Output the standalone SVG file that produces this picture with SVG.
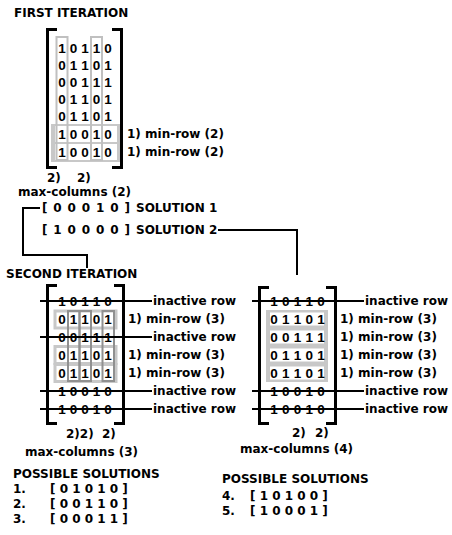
<svg xmlns="http://www.w3.org/2000/svg" width="452" height="535" viewBox="0 0 452 535">
<style>
text{font-family:"DejaVu Sans","Liberation Sans",sans-serif;font-weight:bold;font-size:12px;fill:#000}
.d{text-anchor:middle;font-family:"Liberation Sans",Arial,sans-serif;font-size:13.5px}
.br{fill:none;stroke:#000;stroke-width:3}
.ln{fill:none;stroke:#000;stroke-width:2}
.cl{fill:none;stroke:#c0c0c0;stroke-width:2}
.cd{fill:none;stroke:#909090;stroke-width:2}
.rb{fill:#fff;stroke:#c8c8c8;stroke-width:3}
.gf{fill:#c8c8c8}
.wf{fill:#fff}
</style>
<rect width="452" height="535" fill="#fff"/>

<g id="first-iteration">
<text x="14" y="17">FIRST ITERATION</text>
<rect class="gf" x="51" y="124" width="70" height="38"/>
<rect class="wf" x="55" y="126" width="62" height="16"/>
<rect class="wf" x="55" y="144" width="62" height="16"/>
<rect class="cl" x="56.5" y="37" width="11" height="123"/>
<rect class="cl" x="91" y="37" width="11" height="123"/>
<path class="br" d="M57,29.5H47.5V167.5H57M112,29.5H121.5V167.5H112"/>
<text class="d" x="62 67.75 73.5 79.25 85 90.75 96.5 102.25 108" y="52.8">1 0 1 1 0</text>
<text class="d" x="62 67.75 73.5 79.25 85 90.75 96.5 102.25 108" y="69.8">0 1 1 0 1</text>
<text class="d" x="62 67.75 73.5 79.25 85 90.75 96.5 102.25 108" y="86.8">0 0 1 1 1</text>
<text class="d" x="62 67.75 73.5 79.25 85 90.75 96.5 102.25 108" y="103.8">0 1 1 0 1</text>
<text class="d" x="62 67.75 73.5 79.25 85 90.75 96.5 102.25 108" y="120.8">0 1 1 0 1</text>
<text class="d" x="62 67.75 73.5 79.25 85 90.75 96.5 102.25 108" y="138.8">1 0 0 1 0</text>
<text class="d" x="62 67.75 73.5 79.25 85 90.75 96.5 102.25 108" y="156.8">1 0 0 1 0</text>
<text x="127" y="138.4">1) min-row (2)</text>
<text x="127" y="156.4">1) min-row (2)</text>
<text x="47" y="182">2)</text>
<text x="77" y="182">2)</text>
<text x="18" y="196">max-columns (2)</text>
</g>

<g id="solutions-first">
<text x="42" y="212" textLength="88" lengthAdjust="spacing">[ 0 0 0 1 0 ]</text>
<text x="136" y="212">SOLUTION 1</text>
<text x="42" y="234" textLength="88" lengthAdjust="spacing">[ 1 0 0 0 0 ]</text>
<text x="136" y="234">SOLUTION 2</text>
</g>

<g id="connectors">
<polyline class="ln" points="40,208 23,208 23,255 87,255 87,268"/>
<polyline class="ln" points="218,230 297,230 297,275"/>
</g>

<g id="second-iteration-left">
<text x="6" y="278">SECOND ITERATION</text>
<rect class="rb" x="55" y="311" width="61" height="17"/>
<rect class="rb" x="55" y="346.5" width="61" height="17"/>
<rect class="rb" x="55" y="364.5" width="61" height="17"/>
<rect class="cd" x="68" y="311" width="11.5" height="70"/>
<rect class="cd" x="79.5" y="311" width="11.5" height="70"/>
<rect class="cd" x="102.5" y="311" width="11.5" height="70"/>
<path class="br" d="M57,285.5H47.5V423.5H57M114,285.5H123.5V423.5H114"/>
<text class="d" x="62 67.75 73.5 79.25 85 90.75 96.5 102.25 108" y="305.8">1 0 1 1 0</text>
<text class="d" x="62 67.75 73.5 79.25 85 90.75 96.5 102.25 108" y="323.8">0 1 1 0 1</text>
<text class="d" x="62 67.75 73.5 79.25 85 90.75 96.5 102.25 108" y="341.8">0 0 1 1 1</text>
<text class="d" x="62 67.75 73.5 79.25 85 90.75 96.5 102.25 108" y="359.8">0 1 1 0 1</text>
<text class="d" x="62 67.75 73.5 79.25 85 90.75 96.5 102.25 108" y="377.8">0 1 1 0 1</text>
<text class="d" x="62 67.75 73.5 79.25 85 90.75 96.5 102.25 108" y="395.8">1 0 0 1 0</text>
<text class="d" x="62 67.75 73.5 79.25 85 90.75 96.5 102.25 108" y="413.8">1 0 0 1 0</text>
<path class="ln" d="M40,301H152M40,337H152M40,391H152M40,409H152"/>
<text x="153" y="305.4">inactive row</text>
<text x="128" y="323.4">1) min-row (3)</text>
<text x="153" y="341.4">inactive row</text>
<text x="128" y="359.4">1) min-row (3)</text>
<text x="128" y="377.4">1) min-row (3)</text>
<text x="153" y="395.4">inactive row</text>
<text x="153" y="413.4">inactive row</text>
<text x="66" y="438">2)2)</text>
<text x="102" y="438">2)</text>
<text x="25" y="456">max-columns (3)</text>
</g>

<g id="second-iteration-right">
<rect class="gf" x="266" y="310" width="62" height="72"/>
<rect class="wf" x="270" y="312.5" width="54" height="13"/>
<rect class="wf" x="270" y="330.5" width="54" height="13"/>
<rect class="wf" x="270" y="348.5" width="54" height="13"/>
<rect class="wf" x="270" y="366.5" width="54" height="13"/>
<path class="br" d="M269,287.5H259.5V423.5H269M326,287.5H335.5V423.5H326"/>
<text class="d" x="274 279.9 285.75 291.6 297.5 303.4 309.25 315.1 321" y="305.8">1 0 1 1 0</text>
<text class="d" x="274 279.9 285.75 291.6 297.5 303.4 309.25 315.1 321" y="323.8">0 1 1 0 1</text>
<text class="d" x="274 279.9 285.75 291.6 297.5 303.4 309.25 315.1 321" y="341.8">0 0 1 1 1</text>
<text class="d" x="274 279.9 285.75 291.6 297.5 303.4 309.25 315.1 321" y="359.8">0 1 1 0 1</text>
<text class="d" x="274 279.9 285.75 291.6 297.5 303.4 309.25 315.1 321" y="377.8">0 1 1 0 1</text>
<text class="d" x="274 279.9 285.75 291.6 297.5 303.4 309.25 315.1 321" y="395.8">1 0 0 1 0</text>
<text class="d" x="274 279.9 285.75 291.6 297.5 303.4 309.25 315.1 321" y="413.8">1 0 0 1 0</text>
<path class="ln" d="M252,301H364M252,391H364M252,409H364"/>
<text x="365" y="305.4">inactive row</text>
<text x="340" y="323.4">1) min-row (3)</text>
<text x="340" y="341.4">1) min-row (3)</text>
<text x="340" y="359.4">1) min-row (3)</text>
<text x="340" y="377.4">1) min-row (3)</text>
<text x="365" y="395.4">inactive row</text>
<text x="365" y="413.4">inactive row</text>
<text x="292" y="437">2)</text>
<text x="315" y="437">2)</text>
<text x="240" y="453">max-columns (4)</text>
</g>

<g id="possible-solutions-left">
<text x="13" y="478">POSSIBLE SOLUTIONS</text>
<text x="13" y="493">1.</text>
<text x="50" y="493">[ 0 1 0 1 0 ]</text>
<text x="13" y="508">2.</text>
<text x="50" y="508">[ 0 0 1 1 0 ]</text>
<text x="13" y="523">3.</text>
<text x="50" y="523">[ 0 0 0 1 1 ]</text>
</g>

<g id="possible-solutions-right">
<text x="222" y="483">POSSIBLE SOLUTIONS</text>
<text x="222" y="500">4.</text>
<text x="250" y="500">[ 1 0 1 0 0 ]</text>
<text x="222" y="515">5.</text>
<text x="250" y="515">[ 1 0 0 0 1 ]</text>
</g>
</svg>
